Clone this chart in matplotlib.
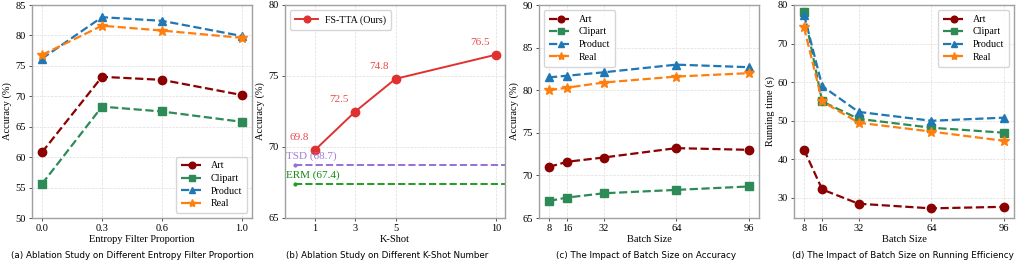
import numpy as np
import matplotlib.pyplot as plt

# (a) entropy filter proportion
entropy_x = [0.0, 0.3, 0.6, 1.0]
a_art = [60.8, 73.2, 72.7, 70.2]
a_clipart = [55.6, 68.3, 67.5, 65.8]
a_product = [76.2, 83.0, 82.4, 79.9]
a_real = [76.8, 81.6, 80.8, 79.6]

# (b) k-shot
kshot_x = [1, 3, 5, 10]
kshot_acc = [69.8, 72.5, 74.8, 76.5]
tsd_acc = 68.7
erm_acc = 67.4

# (c) batch size vs accuracy
batch_x = [8, 16, 32, 64, 96]
c_art = [71.0, 71.6, 72.1, 73.2, 73.0]
c_clipart = [67.0, 67.4, 67.9, 68.3, 68.7]
c_product = [81.5, 81.7, 82.1, 83.0, 82.7]
c_real = [80.0, 80.3, 80.9, 81.6, 82.0]

# (d) batch size vs running time
d_art = [42.5, 32.2, 28.5, 27.3, 27.7]
d_clipart = [78.2, 55.0, 50.5, 48.2, 46.9]
d_product = [77.5, 59.0, 52.3, 50.0, 50.8]
d_real = [74.2, 55.0, 49.5, 47.2, 44.8]

domains = ["Art", "Clipart", "Product", "Real"]
colors = ["#8b0000", "#2e8b57", "#1f77b4", "#ff7f0e"]
markers = ["o", "s", "^", "*"]

captions = [
    "(a) Ablation Study on Different Entropy Filter Proportion",
    "(b) Ablation Study on Different K-Shot Number",
    "(c) The Impact of Batch Size on Accuracy",
    "(d) The Impact of Batch Size on Running Efficiency",
]

FS = 7.5
plt.rcParams["font.family"] = "Liberation Serif"
plt.rcParams["font.size"] = FS

fig = plt.figure(figsize=(10.16, 2.68), dpi=100)
W, H = 1016, 268
lefts = [32, 285, 539, 794]
ax_w = 220
top, bottom = 5, 218
axes = [fig.add_axes([l / W, (H - bottom) / H, ax_w / W, (bottom - top) / H])
        for l in lefts]


def style(ax):
    for s in ax.spines.values():
        s.set_color("#a0a0a0")
        s.set_linewidth(1.0)
    ax.grid(True, linestyle="--", linewidth=0.5, color="#dddddd")
    ax.set_axisbelow(True)
    ax.tick_params(colors="#333333", labelcolor="black", length=2.5, width=0.6,
                   labelsize=FS, pad=2)


def add_legend(ax, loc):
    ax.legend(loc=loc, fontsize=FS - 0.3, edgecolor="#cccccc", handlelength=2.3,
              labelspacing=0.35, borderpad=0.5, handletextpad=0.7,
              markerscale=0.8)


def plot_domains(ax, x, series):
    for vals, name, c, m in zip(series, domains, colors, markers):
        ms = 7.5 if m == "*" else 6
        ax.plot(x, vals, linestyle="--", marker=m, color=c, label=name,
                linewidth=1.6, markersize=ms)


# (a)
ax = axes[0]
style(ax)
plot_domains(ax, entropy_x, [a_art, a_clipart, a_product, a_real])
ax.set_ylim(50, 85)
ax.set_xticks(entropy_x)
ax.set_xticklabels(["0.0", "0.3", "0.6", "1.0"])
ax.set_xlabel("Entropy Filter Proportion", labelpad=1)
ax.set_ylabel("Accuracy (%)", labelpad=2)
add_legend(ax, "lower right")

# (b)
ax = axes[1]
style(ax)
ax.plot(kshot_x, kshot_acc, color="#e03131", marker="o", linewidth=1.4,
        markersize=6, label="FS-TTA (Ours)")
for x, y in zip(kshot_x, kshot_acc):
    ax.text(x - 0.8, y + 0.55, f"{y:.1f}", color="#e84a4a", ha="center",
            va="bottom", fontsize=FS + 0.5)
ax.plot([0, 11], [tsd_acc, tsd_acc], linestyle="--", marker=".", markersize=4,
        color="mediumpurple", linewidth=1.4)
ax.plot([0, 11], [erm_acc, erm_acc], linestyle="--", marker=".", markersize=4,
        color="#1f9e1f", linewidth=1.4)
ax.text(-0.45, tsd_acc + 0.3, f"TSD ({tsd_acc})", color="#a07ad8",
        ha="left", va="bottom", fontsize=FS + 0.5)
ax.text(-0.45, erm_acc + 0.3, f"ERM ({erm_acc})", color="#138a13",
        ha="left", va="bottom", fontsize=FS + 0.5)
ax.set_xlim(-0.5, 10.45)
ax.set_ylim(65, 80)
ax.set_xticks(kshot_x)
ax.set_yticks([65, 70, 75, 80])
ax.set_xlabel("K-Shot", labelpad=1)
ax.set_ylabel("Accuracy (%)", labelpad=2)
add_legend(ax, "upper left")

# (c)
ax = axes[2]
style(ax)
plot_domains(ax, batch_x, [c_art, c_clipart, c_product, c_real])
ax.set_ylim(65, 90)
ax.set_xticks(batch_x)
ax.set_xlabel("Batch Size", labelpad=1)
ax.set_ylabel("Accuracy (%)", labelpad=2)
add_legend(ax, "upper left")

# (d)
ax = axes[3]
style(ax)
plot_domains(ax, batch_x, [d_art, d_clipart, d_product, d_real])
ax.set_ylim(24.8, 80)
ax.set_yticks([30, 40, 50, 60, 70, 80])
ax.set_xticks(batch_x)
ax.set_xlabel("Batch Size", labelpad=1)
ax.set_ylabel("Running time (s)", labelpad=2)
add_legend(ax, "upper right")

cap_x = [132, 387, 646, 903]
for cx, cap in zip(cap_x, captions):
    fig.text(cx / W, 1 - 255 / H, cap, ha="center", va="center",
             fontsize=6.3, family="DejaVu Sans")

fig.savefig("out.png", dpi=100)
